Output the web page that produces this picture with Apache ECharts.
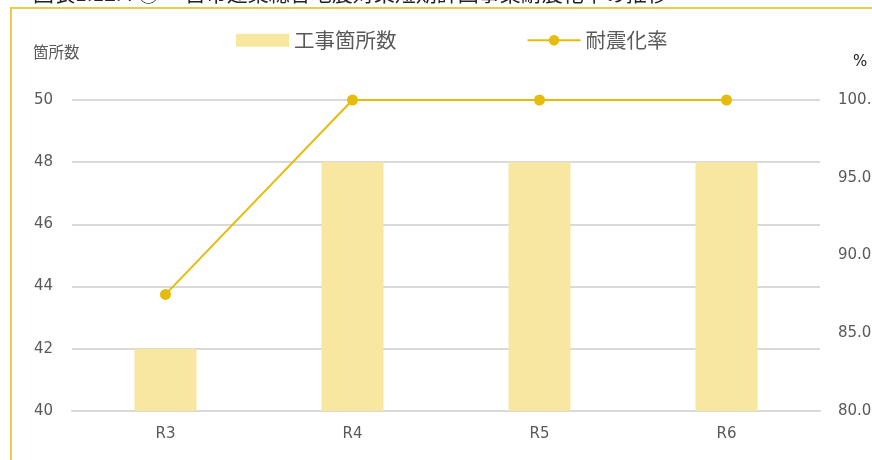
<!DOCTYPE html>
<html>
<head>
<meta charset="utf-8">
<script src="https://cdn.jsdelivr.net/npm/echarts@6/dist/echarts.min.js"></script>
<style>
  html, body { margin: 0; padding: 0; background: #fff; }
  #main { width: 872px; height: 460px; }
</style>
</head>
<body>
<div id="main"></div>
<script>
// 年度
var categories = ['R3', 'R4', 'R5', 'R6'];
// 工事箇所数
var koujiCount = [42, 48, 48, 48];
// 耐震化率 (%)
var taishinRate = [87.5, 100, 100, 100];

var numFont = '"DejaVu Sans", Verdana, sans-serif';
var jpFont = '"Noto Sans CJK JP", sans-serif';
var textColor = '#595959';

var chart = echarts.init(document.getElementById('main'));

var option = {
    backgroundColor: '#fff',
    animation: false,
    title: {
        text: '図表1.12.4 ⑧ 一宮市建築総合地震対策短期計画事業耐震化率の推移',
        left: 28,
        top: -22,
        textStyle: { fontSize: 21, fontWeight: 'normal', color: '#222', fontFamily: jpFont }
    },
    graphic: [{
        type: 'polyline',
        shape: { points: [[11, 470], [11, 8], [880, 8]] },
        style: { stroke: '#ecc94b', lineWidth: 2, fill: null },
        z: 10
    }],
    legend: {
        top: 25,
        left: 231,
        itemGap: 130,
        itemWidth: 53,
        itemHeight: 13,
        textStyle: { fontSize: 20.5, color: textColor, fontFamily: jpFont },
        data: [{ name: '工事箇所数', icon: 'rect' }, { name: '耐震化率' }]
    },
    grid: { left: 72, right: 52, top: 100, bottom: 49, outerBoundsMode: 'none', containLabel: false },
    xAxis: {
        type: 'category',
        data: categories,
        axisLine: { lineStyle: { color: '#d9d9d9', width: 2 } },
        axisTick: { show: false },
        axisLabel: { color: textColor, fontSize: 15, margin: 16, fontFamily: numFont }
    },
    yAxis: [{
        type: 'value',
        name: '箇所数',
        nameLocation: 'end',
        nameGap: 40,
        nameTextStyle: { color: textColor, fontSize: 15.5, align: 'left', padding: [0, 0, 0, -39], fontFamily: jpFont },
        min: 40,
        max: 50,
        interval: 2,
        axisLine: { show: false },
        axisTick: { show: false },
        axisLabel: { color: textColor, fontSize: 15, margin: 19, fontFamily: numFont },
        splitLine: { lineStyle: { color: '#d9d9d9', width: 2 } }
    }, {
        type: 'value',
        name: '%',
        nameLocation: 'end',
        nameGap: 30,
        nameTextStyle: { color: '#222', fontSize: 15, align: 'left', padding: [0, 0, 0, 33], fontFamily: numFont },
        min: 80,
        max: 100,
        interval: 5,
        axisLine: { show: false },
        axisTick: { show: false },
        splitLine: { show: false },
        axisLabel: {
            color: textColor, fontSize: 15, margin: 18, fontFamily: numFont,
            formatter: function (v) { return v.toFixed(1); }
        }
    }],
    series: [{
        name: '工事箇所数',
        type: 'bar',
        data: koujiCount,
        barWidth: 62,
        itemStyle: { color: '#f7e7a1' }
    }, {
        name: '耐震化率',
        type: 'line',
        yAxisIndex: 1,
        data: taishinRate,
        symbol: 'circle',
        symbolSize: 11,
        lineStyle: { color: '#e6bc0c', width: 2 },
        itemStyle: { color: '#e6bc0c' }
    }]
};

chart.setOption(option);
</script>
</body>
</html>
